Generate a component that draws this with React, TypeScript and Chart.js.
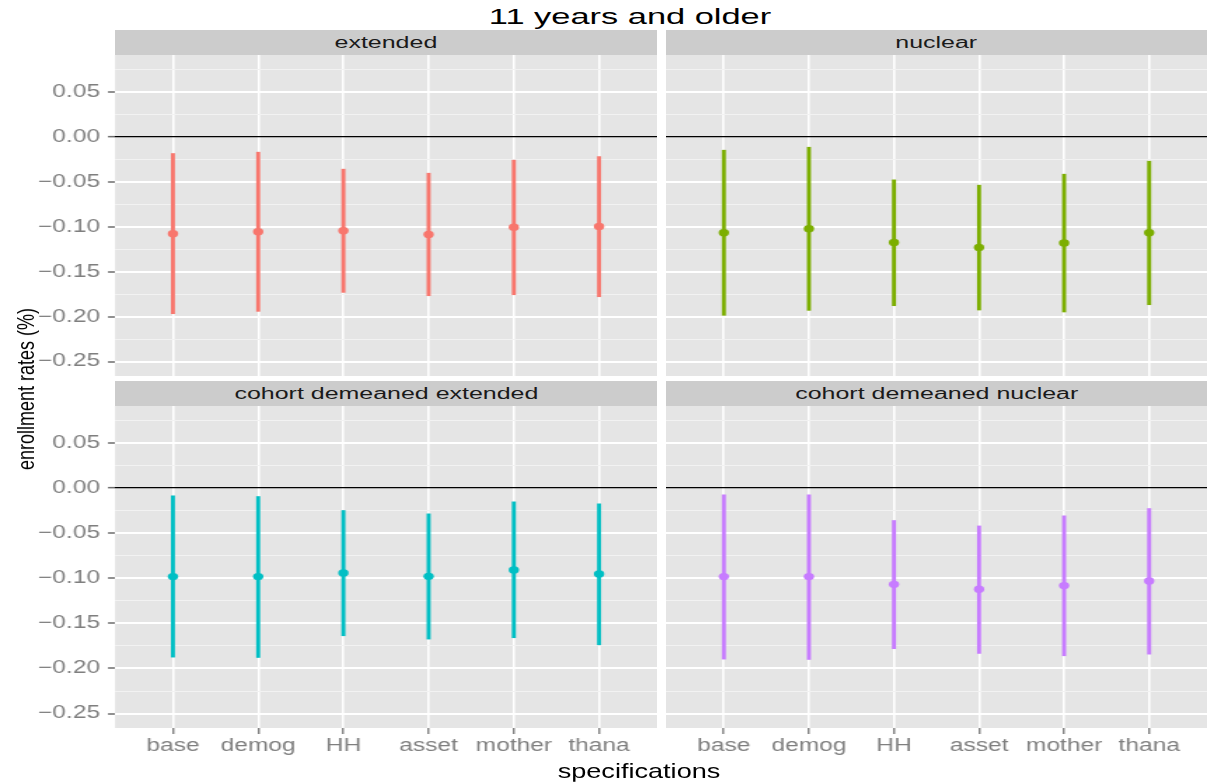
import React, { useEffect, useRef } from 'react';
import { Chart, registerables } from 'chart.js';

Chart.register(...registerables);

// ---------- data ----------
const categories = ['base', 'demog', 'HH', 'asset', 'mother', 'thana'];
const xPositions = [1, 2, 3, 4, 5, 6];

const extendedEst = [-0.1078, -0.1056, -0.1044, -0.1085, -0.1004, -0.0996];
const extendedLo = [-0.1967, -0.1941, -0.173, -0.1767, -0.1756, -0.1778];
const extendedHi = [-0.0185, -0.017, -0.0359, -0.0404, -0.0259, -0.0219];

const nuclearEst = [-0.1067, -0.1022, -0.1174, -0.123, -0.1181, -0.1067];
const nuclearLo = [-0.1985, -0.193, -0.1878, -0.1926, -0.1948, -0.1867];
const nuclearHi = [-0.0148, -0.0115, -0.0478, -0.0537, -0.0415, -0.027];

const cohortExtEst = [-0.0981, -0.0981, -0.0941, -0.0978, -0.0907, -0.0952];
const cohortExtLo = [-0.1874, -0.1878, -0.1637, -0.1674, -0.1659, -0.1737];
const cohortExtHi = [-0.0085, -0.0093, -0.0248, -0.0285, -0.0152, -0.0174];

const cohortNucEst = [-0.0981, -0.0981, -0.1067, -0.1122, -0.1081, -0.103];
const cohortNucLo = [-0.1896, -0.19, -0.178, -0.1833, -0.1859, -0.1841];
const cohortNucHi = [-0.0074, -0.0074, -0.0359, -0.0419, -0.0307, -0.0226];

const yMajorTicks = [-0.25, -0.2, -0.15, -0.1, -0.05, 0, 0.05];
const yTickLabels = ['\u22120.25', '\u22120.20', '\u22120.15', '\u22120.10', '\u22120.05', '0.00', '0.05'];
const yMinorTicks = [-0.225, -0.175, -0.125, -0.075, -0.025, 0.025, 0.075];

const xMin = 0.32;
const xMax = 6.68;
const yMin = -0.266;
const yMax = 0.0911;

const facetTitles = ['extended', 'nuclear', 'cohort demeaned extended', 'cohort demeaned nuclear'];
const facetColors = ['#F8766D', '#7CAE00', '#00BFC4', '#C77CFF'];

const FONT = '"Liberation Sans", Arial, Helvetica, sans-serif';
const STRETCH = 1.4;

const isMajor = (v: number) => yMajorTicks.some((t) => Math.abs(t - v) < 1e-9);

type PanelProps = {
  left: number; top: number; width: number; height: number;
  showY: boolean; showX: boolean;
  est: number[]; lo: number[]; hi: number[]; color: string;
};

function Panel({ left, top, width, height, showY, showX, est, lo, hi, color }: PanelProps) {
  const ref = useRef<HTMLCanvasElement | null>(null);
  const logicalW = Math.round(width / STRETCH);
  const s = width / logicalW;

  useEffect(() => {
    const canvas = ref.current;
    if (!canvas) return;
    const bgPlugin = {
      id: 'panelBg',
      beforeDraw(chart: any) {
        const { ctx, chartArea: a } = chart;
        ctx.save();
        ctx.fillStyle = '#E5E5E5';
        ctx.fillRect(a.left, a.top, a.right - a.left, a.bottom - a.top);
        ctx.restore();
      },
    };
    const chart = new Chart(canvas, {
      type: 'bar',
      data: {
        datasets: [
          {
            type: 'scatter',
            data: categories.map((_, i) => ({ x: xPositions[i], y: est[i] })),
            backgroundColor: color,
            borderColor: color,
            pointRadius: 3.7,
            pointBorderWidth: 0,
            pointHoverRadius: 3.7,
            clip: false,
          } as any,
          {
            type: 'bar',
            data: categories.map((_, i) => ({ x: xPositions[i], y: [lo[i], hi[i]] })),
            backgroundColor: color,
            borderWidth: 0,
            barThickness: 3.1 / s,
            borderSkipped: false,
          } as any,
        ],
      },
      options: {
        responsive: false,
        animation: false,
        devicePixelRatio: 1,
        events: [],
        layout: { padding: 0, autoPadding: false },
        plugins: { legend: { display: false }, tooltip: { enabled: false }, title: { display: false } },
        scales: {
          x: {
            type: 'linear',
            min: xMin,
            max: xMax,
            offset: false,
            afterBuildTicks: (sc: any) => {
              sc.ticks = xPositions.map((v) => ({ value: v }));
            },
            afterFit: (sc: any) => {
              sc.height = showX ? 56 : 0;
              sc.paddingLeft = 0;
              sc.paddingRight = 0;
            },
            grid: {
              offset: false,
              color: '#FFFFFF',
              lineWidth: 2.2 / s,
              drawTicks: showX,
              tickLength: 6,
              tickColor: '#6B6B6B',
              tickWidth: 1.7 / s,
            },
            border: { display: false },
            ticks: {
              display: showX,
              autoSkip: false,
              maxRotation: 0,
              padding: 2,
              color: '#7F7F7F',
              font: { family: FONT, size: 17.5 },
              callback: (v: any) => categories[Math.round(Number(v)) - 1] ?? '',
            },
          },
          y: {
            type: 'linear',
            min: yMin,
            max: yMax,
            afterBuildTicks: (sc: any) => {
              sc.ticks = [...yMinorTicks, ...yMajorTicks].sort((a, b) => a - b).map((v) => ({ value: v }));
            },
            afterFit: (sc: any) => {
              sc.width = showY ? 115 / s : 0;
              sc.paddingTop = 0;
              sc.paddingBottom = 0;
            },
            grid: {
              color: (ctx: any) => {
                const v = ctx.tick ? ctx.tick.value : 1;
                if (Math.abs(v) < 1e-9) return '#000000';
                return isMajor(v) ? '#FFFFFF' : '#F2F2F2';
              },
              lineWidth: (ctx: any) => {
                const v = ctx.tick ? ctx.tick.value : 1;
                if (Math.abs(v) < 1e-9) return 1.3;
                return isMajor(v) ? 2 : 1;
              },
              drawTicks: showY,
              tickLength: 7 / s,
              tickColor: (ctx: any) => {
                const v = ctx.tick ? ctx.tick.value : 1;
                return isMajor(v) ? '#6B6B6B' : 'rgba(0,0,0,0)';
              },
              tickWidth: 1.5,
            },
            border: { display: false },
            ticks: {
              display: showY,
              autoSkip: false,
              padding: 8 / s,
              color: '#7F7F7F',
              font: { family: FONT, size: 17.5 },
              callback: (v: any) => {
                const i = yMajorTicks.findIndex((t) => Math.abs(t - Number(v)) < 1e-9);
                return i >= 0 ? yTickLabels[i] : '';
              },
            },
          },
        },
      } as any,
      plugins: [bgPlugin],
    });
    return () => chart.destroy();
  }, []);

  return (
    <canvas
      ref={ref}
      width={logicalW}
      height={height}
      style={{ position: 'absolute', left, top, width: `${width}px`, height: `${height}px`, display: 'block' }}
    />
  );
}

function Strip({ left, top, width, text }: { left: number; top: number; width: number; text: string }) {
  return (
    <div
      style={{
        position: 'absolute', left, top, width, height: 25, background: '#CCCCCC',
        display: 'flex', alignItems: 'center', justifyContent: 'center', overflow: 'hidden',
      }}
    >
      <span
        style={{
          fontFamily: FONT, fontSize: 16, color: '#1A1A1A', whiteSpace: 'nowrap',
          display: 'inline-block', transform: 'scaleX(1.56)', lineHeight: '25px',
        }}
      >
        {text}
      </span>
    </div>
  );
}

export default function App() {
  const panels = [
    { left: 0, top: 55, width: 657, height: 321, showY: true, showX: false, est: extendedEst, lo: extendedLo, hi: extendedHi },
    { left: 666, top: 55, width: 541, height: 321, showY: false, showX: false, est: nuclearEst, lo: nuclearLo, hi: nuclearHi },
    { left: 0, top: 406, width: 657, height: 378, showY: true, showX: true, est: cohortExtEst, lo: cohortExtLo, hi: cohortExtHi },
    { left: 666, top: 406, width: 541, height: 378, showY: false, showX: true, est: cohortNucEst, lo: cohortNucLo, hi: cohortNucHi },
  ];
  const strips = [
    { left: 115, top: 30, width: 542 },
    { left: 666, top: 30, width: 541 },
    { left: 115, top: 381, width: 542 },
    { left: 666, top: 381, width: 541 },
  ];
  return (
    <div style={{ position: 'absolute', left: 0, top: 0, width: 1207, height: 784, background: '#FFFFFF', overflow: 'hidden' }}>
      {panels.map((p, i) => (
        <Panel key={i} {...p} color={facetColors[i]} />
      ))}
      {strips.map((st, i) => (
        <Strip key={i} {...st} text={facetTitles[i]} />
      ))}
      <div
        style={{
          position: 'absolute', left: 630, top: 17.5, fontFamily: FONT, fontSize: 21.5, color: '#000',
          whiteSpace: 'nowrap', lineHeight: 1, transform: 'translate(-50%, -50%) scaleX(1.6)',
        }}
      >
        11 years and older
      </div>
      <div
        style={{
          position: 'absolute', left: 639, top: 770, fontFamily: FONT, fontSize: 21, color: '#000',
          whiteSpace: 'nowrap', lineHeight: 1, transform: 'translate(-50%, -50%) scaleX(1.29)',
        }}
      >
        specifications
      </div>
      <div
        style={{
          position: 'absolute', left: 26, top: 389, fontFamily: FONT, fontSize: 18, color: '#000',
          whiteSpace: 'nowrap', lineHeight: 1, transform: 'translate(-50%, -50%) rotate(-90deg) scaleY(1.3)',
        }}
      >
        enrollment rates (%)
      </div>
    </div>
  );
}
